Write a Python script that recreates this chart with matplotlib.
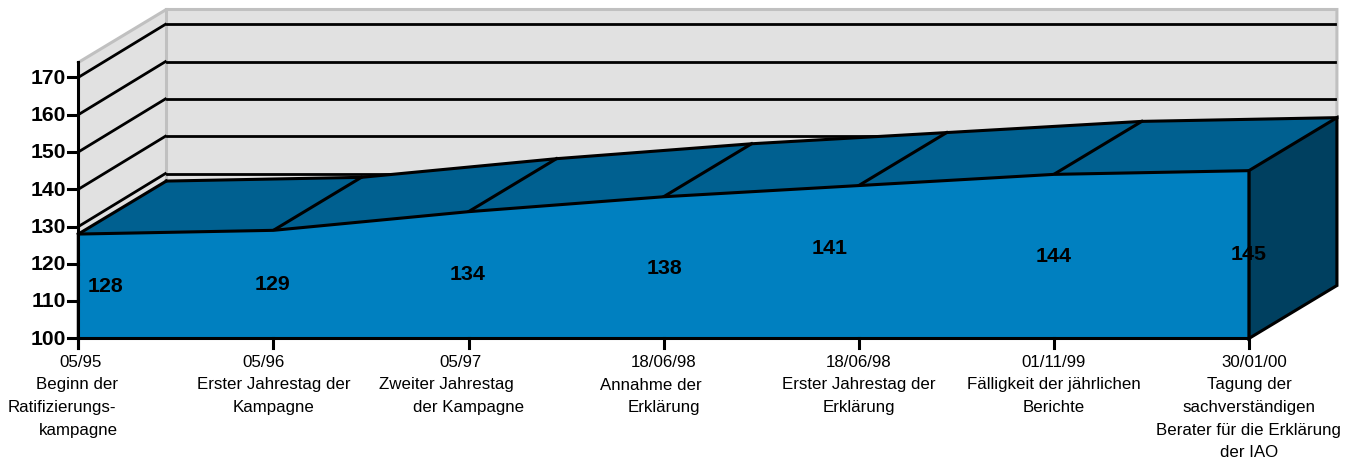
import matplotlib
matplotlib.use("Agg")
import matplotlib.pyplot as plt

plt.rcParams['font.family'] = ['Liberation Sans', 'DejaVu Sans']

values = [128, 129, 134, 138, 141, 144, 145]
y_ticks = [100, 110, 120, 130, 140, 150, 160, 170]
category_lines = [
    ["05/95", "Beginn der", "Ratifizierungs-", "kampagne"],
    ["05/96", "Erster Jahrestag der", "Kampagne"],
    ["05/97", "Zweiter Jahrestag", "der Kampagne"],
    ["18/06/98", "Annahme der", "Erklärung"],
    ["18/06/98", "Erster Jahrestag der", "Erklärung"],
    ["01/11/99", "Fälligkeit der jährlichen", "Berichte"],
    ["30/01/00", "Tagung der", "sachverständigen", "Berater für die Erklärung", "der IAO"],
]

# Layout (pixels on the 1361x461 canvas)
W, H = 1361, 461
X0, XSTEP = 78.3, 195.1
Y0, YUNIT = 338.5, 3.73
DX_PX, DY_PX = 88.0, 53.0
# Horizontal offsets of individual text lines relative to their category (pixels)
line_offsets = [
    [2, -1, -16, 0],
    [-10, 0, 0],
    [-8, -22, 0],
    [0, -13, 0],
    [0, 0, 0],
    [0, 0, 0],
    [5, 0, 0, 0, 0],
]
label_pos_px = [(105, 286), (273, 284), (468, 275), (664, 268), (830, 249), (1054, 256), (1249, 254)]

fig = plt.figure(figsize=(W / 100, H / 100), dpi=100)
ax = fig.add_axes([0, 0, 1, 1])
ax.set_xlim(-X0 / XSTEP, (W - X0) / XSTEP)
ax.set_ylim(100 - (H - Y0) / YUNIT, 100 + Y0 / YUNIT)
ax.axis('off')

dx, dy = DX_PX / XSTEP, DY_PX / YUNIT
n = len(values)
xs = list(range(n))
top = 174
xmax = n - 1

WALL, WALL_EDGE = '#E1E1E1', '#C0C0C0'
FRONT, TOP, SIDE = '#0080C0', '#006090', '#004060'
LW = 2.2

# Walls
ax.fill([0, dx, dx, 0], [100, 100 + dy, top + dy, top], color=WALL, lw=0, zorder=1)
ax.fill([dx, xmax + dx, xmax + dx, dx], [100 + dy, 100 + dy, top + dy, top + dy], color=WALL, lw=0, zorder=1)
ax.plot([0, dx, xmax + dx, xmax + dx], [top, top + dy, top + dy, 100 + dy], color=WALL_EDGE, lw=2.2, zorder=2,
        solid_joinstyle='miter')
ax.plot([dx, dx], [100 + dy, top + dy], color=WALL_EDGE, lw=2.2, zorder=2)

# Gridlines
for t in y_ticks[3:]:
    ax.plot([0, dx - 0.005], [t, t + dy], color='black', lw=LW - 0.2, zorder=3)
    ax.plot([dx + 0.005, xmax + dx - 0.01], [t + dy, t + dy], color='black', lw=LW - 0.2, zorder=3)

# Area: top surface, side, front
top_x = xs + [x + dx for x in reversed(xs)]
top_y = values + [v + dy for v in reversed(values)]
ax.fill(top_x, top_y, color=TOP, lw=0, zorder=4)
ax.fill([xmax, xmax + dx, xmax + dx, xmax],
        [100, 100 + dy, values[-1] + dy, values[-1]], facecolor=SIDE, edgecolor='black', lw=LW, zorder=5,
        joinstyle='miter')
ax.fill([0] + xs + [xmax], [100] + values + [100], facecolor=FRONT, edgecolor='black', lw=LW, zorder=6,
        joinstyle='miter')
ax.plot([x + dx for x in xs], [v + dy for v in values], color='black', lw=LW, zorder=5)
for x, v in zip(xs[:-1], values[:-1]):
    ax.plot([x, x + dx], [v, v + dy], color='black', lw=LW, zorder=5)

# Axes lines and ticks
ax.plot([0, 0], [100 - 10 / YUNIT, top], color='black', lw=LW, zorder=7)
for t in y_ticks:
    ax.plot([-10.5 / XSTEP, 0], [t, t], color='black', lw=LW, zorder=7)
    ax.text(-12.5 / XSTEP, t - 0.2, str(t), ha='right', va='center', fontsize=15.2, fontweight='bold', zorder=8)
for x in xs:
    ax.plot([x, x], [100, 100 - 10 / YUNIT], color='black', lw=LW, zorder=7)

# Data labels
for v, (px, py) in zip(values, label_pos_px):
    ax.text((px - X0) / XSTEP, 100 + (Y0 - py) / YUNIT, str(v), ha='center', va='center',
            fontsize=15.4, fontweight='bold', zorder=9)

# Category labels
for x, lines, offs in zip(xs, category_lines, line_offsets):
    for i, (line, off) in enumerate(zip(lines, offs)):
        ax.text(x + off / XSTEP, 100 + (Y0 - (362.5 + 22.5 * i)) / YUNIT, line, ha='center', va='center',
                fontsize=12.2, color='black', zorder=8)

fig.savefig('out.png', dpi=100)
